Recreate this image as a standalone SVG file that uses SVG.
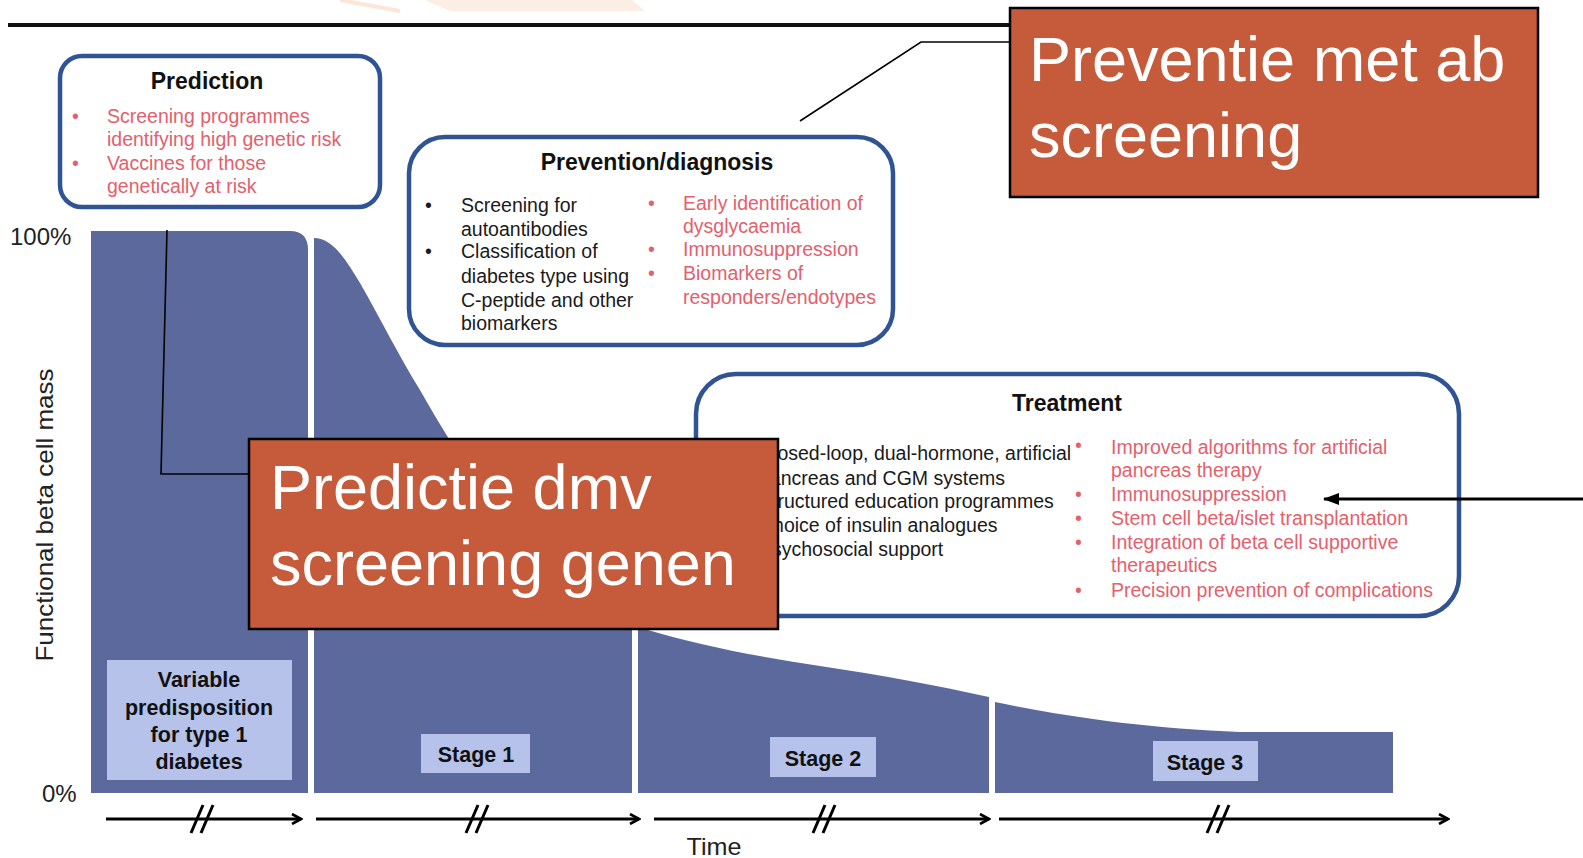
<svg xmlns="http://www.w3.org/2000/svg" width="1583" height="858" viewBox="0 0 1583 858">
  <defs>
    <style>
      text { font-family: "Liberation Sans", Arial, sans-serif; }
      .box { fill: #ffffff; stroke: #2f5393; stroke-width: 4.5; }
      .title { font-weight: bold; font-size: 23px; fill: #111111; text-anchor: middle; }
      .blk { font-size: 19.5px; fill: #1a1a1a; }
      .red { font-size: 19.5px; fill: #e4606c; }
      .area { fill: #5c699c; }
      .lbl { fill: #b6c2ea; }
      .lbltxt { font-weight: bold; font-size: 21.5px; fill: #111111; text-anchor: middle; }
      .axis { font-size: 24px; fill: #222222; }
      .orange { fill: #c55b3b; stroke: #000000; stroke-width: 2.5; }
      .otxt { font-size: 63px; fill: #ffffff; }
      .call { fill: none; stroke: #000000; stroke-width: 1.6; }
      .time { fill: none; stroke: #000000; stroke-width: 3.2; }
      .brk { fill: none; stroke: #000000; stroke-width: 3; }
    </style>
    <marker id="chev" viewBox="0 0 12 12" refX="10" refY="6" markerWidth="12" markerHeight="12" markerUnits="userSpaceOnUse" orient="auto">
      <path d="M1,1 L10,6 L1,11" fill="none" stroke="#000" stroke-width="2.6"/>
    </marker>
    <marker id="solid" viewBox="0 0 16 12" refX="15" refY="6" markerWidth="16" markerHeight="12" markerUnits="userSpaceOnUse" orient="auto">
      <path d="M0,0 L16,6 L0,12 Z" fill="#000"/>
    </marker>
  </defs>

  <rect width="1583" height="858" fill="#ffffff"/>

  <!-- faint background decoration -->
  <g id="decor">
    <line x1="340" y1="0" x2="400" y2="11" stroke="#fde6d6" stroke-width="4"/>
    <polygon points="425,0 450,11 645,11 632,0" fill="#fdeee4"/>
  </g>

  <!-- top rule -->
  <line x1="8" y1="25" x2="1012" y2="25" stroke="#111111" stroke-width="4"/>

  <!-- chart areas -->
  <g id="chart">
    <path class="area" d="M91,231 H290 Q308,231 308,250 V793 H91 Z"/>
    <path class="area" d="M314,238 C332,238 345,258 360,283 C380,318 400,358 420,390 C440,425 462,462 492,502 C532,560 580,606 632,626 V793 H314 Z"/>
    <path class="area" d="M638,627 C700,646 760,657 820,666 C880,675 940,686 989,697 V793 H638 Z"/>
    <path class="area" d="M995,702 C1060,716 1150,729 1240,732 H1393 V793 H995 Z"/>
  </g>

  <!-- axis labels -->
  <g id="axis">
    <text class="axis" x="10" y="245">100%</text>
    <text class="axis" x="42" y="802">0%</text>
    <text class="axis" transform="translate(53,515) rotate(-90)" text-anchor="middle" textLength="293" lengthAdjust="spacingAndGlyphs">Functional beta cell mass</text>
    <text class="axis" x="714" y="855" text-anchor="middle" textLength="55" lengthAdjust="spacingAndGlyphs">Time</text>
  </g>

  <!-- stage labels -->
  <g id="predisposition">
    <rect class="lbl" x="107" y="660" width="185" height="120"/>
    <text class="lbltxt" x="199" y="687">Variable</text>
    <text class="lbltxt" x="199" y="715">predisposition</text>
    <text class="lbltxt" x="199" y="742">for type 1</text>
    <text class="lbltxt" x="199" y="769">diabetes</text>
  </g>
  <g id="stage1">
    <rect class="lbl" x="421" y="734" width="109" height="39"/>
    <text class="lbltxt" x="476" y="762">Stage 1</text>
  </g>
  <g id="stage2">
    <rect class="lbl" x="770" y="737" width="106" height="40"/>
    <text class="lbltxt" x="823" y="766">Stage 2</text>
  </g>
  <g id="stage3">
    <rect class="lbl" x="1153" y="741" width="105" height="40"/>
    <text class="lbltxt" x="1205" y="770">Stage 3</text>
  </g>

  <!-- Prediction box -->
  <g id="prediction">
    <rect class="box" x="60" y="56" width="320" height="151" rx="22"/>
    <text class="title" x="207" y="89">Prediction</text>
    <text class="red" x="72" y="123">•</text>
    <text class="red" x="107" y="123">Screening programmes</text>
    <text class="red" x="107" y="146">identifying high genetic risk</text>
    <text class="red" x="72" y="170">•</text>
    <text class="red" x="107" y="170">Vaccines for those</text>
    <text class="red" x="107" y="193">genetically at risk</text>
  </g>

  <!-- Prevention/diagnosis box -->
  <g id="prevention">
    <rect class="box" x="409" y="137" width="484" height="208" rx="36"/>
    <text class="title" x="657" y="170">Prevention/diagnosis</text>
    <text class="blk" x="425" y="212">•</text>
    <text class="blk" x="461" y="212">Screening for</text>
    <text class="blk" x="461" y="236">autoantibodies</text>
    <text class="blk" x="425" y="258">•</text>
    <text class="blk" x="461" y="258">Classification of</text>
    <text class="blk" x="461" y="283">diabetes type using</text>
    <text class="blk" x="461" y="307">C-peptide and other</text>
    <text class="blk" x="461" y="330">biomarkers</text>
    <text class="red" x="648" y="210">•</text>
    <text class="red" x="683" y="210">Early identification of</text>
    <text class="red" x="683" y="233">dysglycaemia</text>
    <text class="red" x="648" y="256">•</text>
    <text class="red" x="683" y="256">Immunosuppression</text>
    <text class="red" x="648" y="280">•</text>
    <text class="red" x="683" y="280">Biomarkers of</text>
    <text class="red" x="683" y="304">responders/endotypes</text>
  </g>

  <!-- Treatment box -->
  <g id="treatment">
    <rect class="box" x="696" y="374" width="763" height="242" rx="40"/>
    <text class="title" x="1067" y="411">Treatment</text>
    <text class="blk" x="759" y="460">Closed-loop, dual-hormone, artificial</text>
    <text class="blk" x="759" y="485">pancreas and CGM systems</text>
    <text class="blk" x="759" y="508">Structured education programmes</text>
    <text class="blk" x="759" y="532">Choice of insulin analogues</text>
    <text class="blk" x="759" y="556">Psychosocial support</text>
    <text class="red" x="1075" y="452">•</text>
    <text class="red" x="1111" y="454">Improved algorithms for artificial</text>
    <text class="red" x="1111" y="477">pancreas therapy</text>
    <text class="red" x="1075" y="501">•</text>
    <text class="red" x="1111" y="501">Immunosuppression</text>
    <text class="red" x="1075" y="525">•</text>
    <text class="red" x="1111" y="525">Stem cell beta/islet transplantation</text>
    <text class="red" x="1075" y="549">•</text>
    <text class="red" x="1111" y="549">Integration of beta cell supportive</text>
    <text class="red" x="1111" y="572">therapeutics</text>
    <text class="red" x="1075" y="597">•</text>
    <text class="red" x="1111" y="597">Precision prevention of complications</text>
  </g>

  <!-- connectors -->
  <g id="connectors">
    <polyline class="call" points="1012,42 921,42 800,121"/>
    <polyline class="call" points="250,474 161,474 167,230"/>
    <line x1="1583" y1="499" x2="1324" y2="499" stroke="#000" stroke-width="2.8" marker-end="url(#solid)"/>
    <!-- time arrows -->
    <line class="time" x1="106" y1="819" x2="301" y2="819" marker-end="url(#chev)"/>
    <line class="time" x1="316" y1="819" x2="639" y2="819" marker-end="url(#chev)"/>
    <line class="time" x1="654" y1="819" x2="989" y2="819" marker-end="url(#chev)"/>
    <line class="time" x1="999" y1="819" x2="1448" y2="819" marker-end="url(#chev)"/>
    <!-- break marks -->
    <path class="brk" d="M191,833 L203,805 M201,833 L213,805"/>
    <path class="brk" d="M466,833 L478,805 M476,833 L488,805"/>
    <path class="brk" d="M813,833 L825,805 M823,833 L835,805"/>
    <path class="brk" d="M1207,833 L1219,805 M1217,833 L1229,805"/>
  </g>

  <!-- orange annotation boxes -->
  <g id="preventie">
    <rect class="orange" x="1010" y="8" width="528" height="189"/>
    <text class="otxt" x="1029" y="81">Preventie met ab</text>
    <text class="otxt" x="1029" y="157">screening</text>
  </g>
  <g id="predictie">
    <rect class="orange" x="249" y="439" width="529" height="190"/>
    <text class="otxt" x="270" y="509">Predictie dmv</text>
    <text class="otxt" x="270" y="585">screening genen</text>
  </g>
</svg>
